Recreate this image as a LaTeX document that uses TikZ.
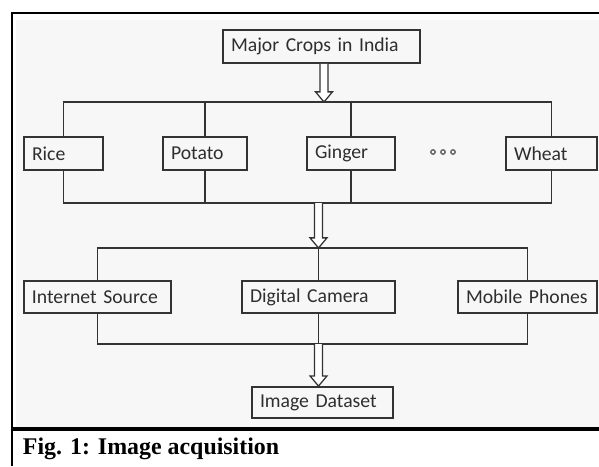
\documentclass[tikz,border=0pt]{standalone}
\usepackage{fontspec}
\setmainfont{Liberation Serif}
\newfontfamily\boxfont{Carlito}
\usepackage{xcolor}
\usetikzlibrary{positioning, calc}
\definecolor{linegray}{HTML}{333333}
\definecolor{textgray}{HTML}{2E2E2E}
\definecolor{panelgray}{HTML}{F7F7F7}

\tikzset{
    cropbox/.style={draw=linegray, line width=1.3pt, text=textgray,
        font=\boxfont\fontsize{14}{16}\selectfont,
        inner xsep=2mm, inner ysep=0pt, minimum height=8.25mm, align=left},
    link/.style={draw=linegray, line width=1.3pt},
    hollow/.style={draw=linegray, fill=white, line width=0.9pt, line join=miter}
}
% open block arrow from #1 down to #2
\newcommand{\hollowarrow}[2]{%
    \draw [hollow] let \p1 = #1, \p2 = #2 in
        (\x1-2.9pt, \y1) -- (\x1-2.9pt, \y2+7.2pt) -- (\x1-6pt, \y2+7.2pt) -- (\x1, \y2)
        -- (\x1+6pt, \y2+7.2pt) -- (\x1+2.9pt, \y2+7.2pt) -- (\x1+2.9pt, \y1);}

\begin{document}
\begin{tikzpicture}[x=0.25mm, y=-0.25mm]
        \useasboundingbox (0, 0) rectangle (599, 466);
        \fill [panelgray] (16, 20) rectangle (599, 427);
        \draw [line width=1.4pt] (12, 13) -- (599, 13);
        \draw [line width=1.8pt] (12, 12) -- (12, 466);
        \draw [line width=2.4pt] (12, 429) -- (599, 429);

        \node [cropbox, text width=45.25mm] (major) at (321.5, 46.5) {Major Crops in India};
        \node [cropbox, text width=15.75mm] (rice) at (63.5, 153.5) {Rice};
        \node [cropbox, text width=17mm] (potato) at (205, 153.5) {Potato};
        \node [cropbox, text width=18mm] (ginger) at (351, 153.5) {Ginger};
        \node [cropbox, text width=18.75mm] (wheat) at (551.5, 153.5) {Wheat};
        \node [cropbox, text width=32.75mm, minimum height=8mm] (internet) at (97.5, 297) {Internet Source};
        \node [cropbox, text width=34.25mm, minimum height=8mm] (camera) at (318.5, 297) {Digital Camera};
        \node [cropbox, text width=30.75mm, minimum height=8mm] (mobile) at (527.5, 297) {Mobile Phones};
        \node [cropbox, text width=31.25mm, minimum height=7.75mm] (dataset) at (322.5, 402.5) {Image Dataset};

        \coordinate (cropstop) at (324, 102);
        \coordinate (cropsbottom) at (318.5, 203);
        \coordinate (sourcetop) at (318.5, 248);
        \coordinate (sourcebottom) at (318.5, 344);

        % crops
        \draw [link] (rice.north) |- (cropstop) -| (wheat.north);
        \draw [link] (potato.north) -- (potato.north |- cropstop);
        \draw [link] (ginger.north) -- (ginger.north |- cropstop);
        \draw [link] (rice.south) |- (cropsbottom) -| (wheat.south);
        \draw [link] (potato.south) -- (potato.south |- cropsbottom);
        \draw [link] (ginger.south) -- (ginger.south |- cropsbottom);

        % sources
        \draw [link] (internet.north) |- (sourcetop) -| (mobile.north);
        \draw [link] (camera.north) -- (sourcetop);
        \draw [link] (internet.south) |- (sourcebottom) -| (mobile.south);
        \draw [link] (camera.south) -- (sourcebottom);

        % hollow arrows
        \hollowarrow{(major.south -| cropstop)}{(cropstop)}
        \hollowarrow{(cropsbottom)}{(sourcetop)}
        \hollowarrow{(sourcebottom)}{(dataset.north -| sourcebottom)}

        \foreach \dx in {433, 443, 453}
            \draw [black!60, line width=1pt] (\dx, 152) circle [radius=2.2];

        \node [anchor=west, font=\bfseries\fontsize{17}{20}\selectfont] (caption) at (18, 449) {Fig. 1: Image acquisition};
    \end{tikzpicture}
\end{document}
